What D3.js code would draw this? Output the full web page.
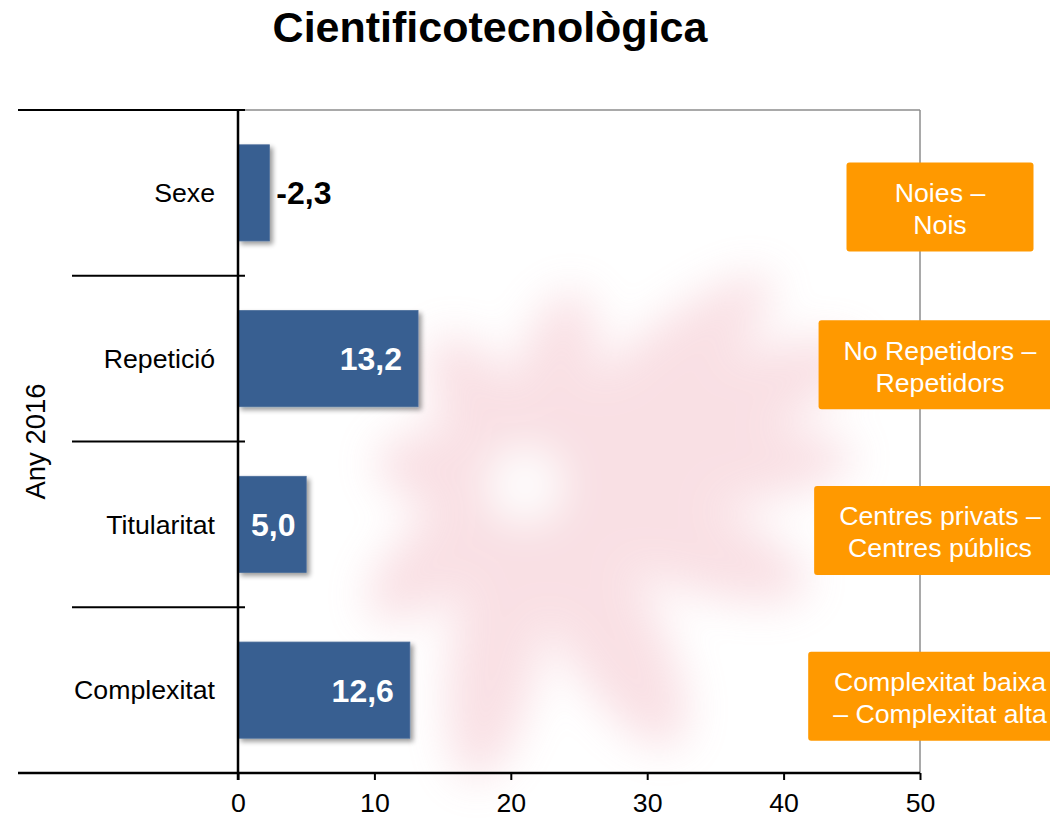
<!DOCTYPE html>
<html>
<head>
<meta charset="utf-8">
<script src="https://cdn.jsdelivr.net/npm/d3@7"></script>
<style>
  html, body { margin: 0; padding: 0; background: #ffffff; }
  svg { display: block; font-family: "Liberation Sans", Arial, sans-serif; }
</style>
</head>
<body>
<svg id="chart" width="1050" height="819"></svg>
<script>
// Differences by factor, year 2016 (Cientificotecnològica)
const categories = ["Sexe", "Repetició", "Titularitat", "Complexitat"];
const values = [-2.3, 13.2, 5.0, 12.6];
const valueLabels = ["-2,3", "13,2", "5,0", "12,6"];
const groupNotes = [
  ["Noies –", "Nois"],
  ["No Repetidors –", "Repetidors"],
  ["Centres privats –", "Centres públics"],
  ["Complexitat baixa", "– Complexitat alta"]
];
const xTicks = [0, 10, 20, 30, 40, 50];
const titleText = "Cientificotecnològica";
const yearLabel = "Any 2016";

const svg = d3.select("#chart");
const plot = { left: 238, right: 920, top: 110, bottom: 773 };
const FS = 26.7;

const x = d3.scaleLinear().domain([0, 50]).range([plot.left, plot.right]);
const y = d3.scaleBand().domain(categories).range([plot.top, plot.bottom])
  .paddingInner(0.42).paddingOuter(0.21);
const step = y.step();
const bandCenter = c => y(c) + y.bandwidth() / 2;

const defs = svg.append("defs");
const blur = defs.append("filter").attr("id", "soft").attr("x", "-50%").attr("y", "-50%")
  .attr("width", "200%").attr("height", "200%");
blur.append("feGaussianBlur").attr("stdDeviation", 22);

const shadow = defs.append("filter").attr("id", "barShadow").attr("x", "-20%").attr("y", "-20%")
  .attr("width", "150%").attr("height", "150%");
shadow.append("feGaussianBlur").attr("in", "SourceAlpha").attr("stdDeviation", 2.5);
shadow.append("feOffset").attr("dx", 3).attr("dy", 3).attr("result", "off");
shadow.append("feComponentTransfer").append("feFuncA").attr("type", "linear").attr("slope", 0.4);
const merge = shadow.append("feMerge");
merge.append("feMergeNode");
merge.append("feMergeNode").attr("in", "SourceGraphic");

// faint background emblem
const emblem = svg.append("g").attr("filter", "url(#soft)").attr("opacity", 0.3);
const petals = [
  { a: -22, l: 360, w: 90 }, { a: -5, l: 330, w: 80 }, { a: 20, l: 300, w: 90 },
  { a: 60, l: 300, w: 100 }, { a: 100, l: 300, w: 90 }, { a: 140, l: 200, w: 80 },
  { a: 190, l: 150, w: 80 }, { a: 240, l: 170, w: 80 }, { a: 285, l: 200, w: 80 },
  { a: 320, l: 320, w: 80 }
];
emblem.selectAll("ellipse").data(petals).join("ellipse")
  .attr("cx", d => d.l / 2).attr("cy", 0)
  .attr("rx", d => d.l / 2).attr("ry", d => d.w / 2)
  .attr("fill", "#ec9aa8")
  .attr("transform", d => `translate(525,485) rotate(${d.a})`);
emblem.append("circle").attr("cx", 525).attr("cy", 485).attr("r", 35).attr("fill", "#ffffff");

// title
svg.append("text")
  .attr("x", 490).attr("y", 42)
  .attr("text-anchor", "middle")
  .attr("font-size", 43).attr("font-weight", "bold").attr("fill", "#000")
  .text(titleText);

// plot frame (top and right, grey)
svg.append("line").attr("x1", plot.left).attr("x2", plot.right)
  .attr("y1", plot.top).attr("y2", plot.top).attr("stroke", "#8c8c8c").attr("stroke-width", 1.5);
svg.append("line").attr("x1", plot.right).attr("x2", plot.right)
  .attr("y1", plot.top).attr("y2", plot.bottom).attr("stroke", "#8c8c8c").attr("stroke-width", 1.5);

// category separators extending left of the axis
const seps = d3.range(categories.length + 1).map(i => plot.top + i * step);
svg.selectAll("line.sep").data(seps).join("line").attr("class", "sep")
  .attr("x1", (d, i) => (i === 0 || i === categories.length) ? 18 : 72)
  .attr("x2", plot.left + 7)
  .attr("y1", d => d).attr("y2", d => d)
  .attr("stroke", "#000").attr("stroke-width", 2);

// bars
svg.selectAll("rect.bar").data(categories).join("rect").attr("class", "bar")
  .attr("x", x(0))
  .attr("y", c => y(c))
  .attr("width", (c, i) => x(Math.abs(values[i])) - x(0))
  .attr("height", y.bandwidth())
  .attr("fill", "#385e91")
  .attr("stroke", "#4a6d9a").attr("stroke-width", 0.8)
  .attr("filter", "url(#barShadow)");

// x axis
const xAxis = d3.axisBottom(x).tickValues(xTicks).tickSize(7).tickSizeOuter(0)
  .tickFormat(d3.format("d"));
const gx = svg.append("g").attr("transform", `translate(0,${plot.bottom})`).call(xAxis);
gx.select(".domain").attr("stroke", "#000").attr("stroke-width", 2.5)
  .attr("d", `M18,0H${plot.right}`);
gx.selectAll(".tick line").attr("stroke", "#000").attr("stroke-width", 2);
gx.selectAll(".tick text").attr("font-size", FS).attr("fill", "#000")
  .attr("font-family", "Liberation Sans, Arial, sans-serif")
  .attr("y", 39).attr("dy", 0);

// y axis line
svg.append("line").attr("x1", plot.left).attr("x2", plot.left)
  .attr("y1", plot.top).attr("y2", plot.bottom + 7)
  .attr("stroke", "#000").attr("stroke-width", 2.5);

// category labels
svg.selectAll("text.cat").data(categories).join("text").attr("class", "cat")
  .attr("x", 215).attr("y", c => bandCenter(c))
  .attr("dy", "0.35em").attr("text-anchor", "end")
  .attr("font-size", FS).attr("fill", "#000")
  .text(c => c);

svg.append("text")
  .attr("transform", `translate(45,${(plot.top + plot.bottom) / 2}) rotate(-90)`)
  .attr("text-anchor", "middle").attr("font-size", 27.5).attr("fill", "#000")
  .text(yearLabel);

// value labels
const vl = svg.selectAll("text.val").data(categories).join("text").attr("class", "val")
  .attr("y", c => bandCenter(c)).attr("dy", "0.36em")
  .attr("font-size", 32).attr("font-weight", "bold")
  .text((c, i) => valueLabels[i]);
vl.each(function (c, i) {
  const t = d3.select(this);
  const end = x(Math.abs(values[i]));
  const w = this.getComputedTextLength();
  if (values[i] < 0) {
    t.attr("x", end + 7).attr("text-anchor", "start").attr("fill", "#000");
  } else {
    t.attr("x", Math.max(end - 16, x(0) + w + 13)).attr("text-anchor", "end").attr("fill", "#fff");
  }
});

// orange notes on the right
const noteCx = 940, noteH = 89;
const notes = svg.selectAll("g.note").data(categories).join("g").attr("class", "note");
notes.each(function (c, i) {
  const g = d3.select(this);
  const cy = bandCenter(c) + (i === 0 ? 14 : 6);
  const txt = g.append("text").attr("text-anchor", "middle").attr("font-size", FS).attr("fill", "#fff");
  groupNotes[i].forEach((line, k) => {
    txt.append("tspan").attr("x", noteCx).attr("y", cy + (k === 0 ? -5 : 27)).text(line);
  });
  let tw = 0;
  txt.selectAll("tspan").each(function () { tw = Math.max(tw, this.getComputedTextLength()); });
  const bw = Math.max(187, tw + 50);
  g.insert("rect", "text")
    .attr("x", noteCx - bw / 2).attr("y", cy - noteH / 2)
    .attr("width", bw).attr("height", noteH)
    .attr("rx", 3).attr("fill", "#ff9900");
});
</script>
</body>
</html>
